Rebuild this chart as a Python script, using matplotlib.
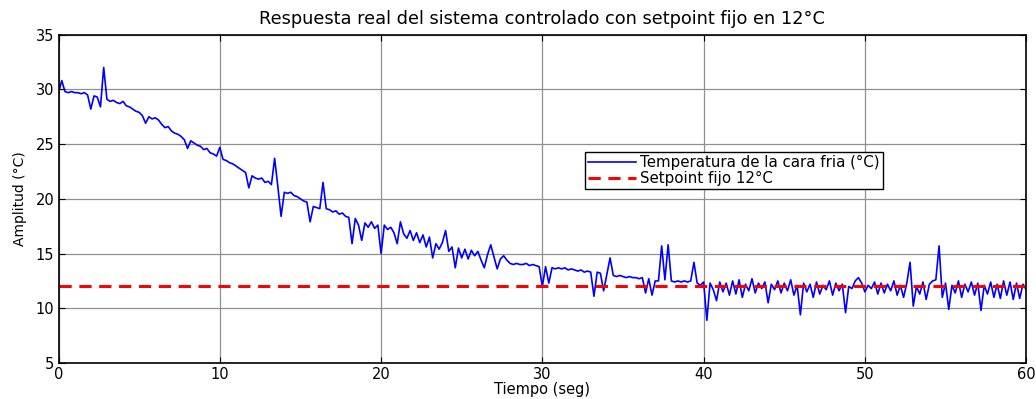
import numpy as np
import matplotlib.pyplot as plt

plt.rcParams['font.family'] = ['DejaVu Sans']

# Temperatura medida (°C), una muestra cada 0.2 s
dt = 0.2
temperatura = [
    29.7, 30.8, 29.8, 29.7, 29.8, 29.7, 29.7, 29.6, 29.7, 29.5,
    28.2, 29.4, 29.3, 28.4, 32.0, 29.1, 28.9, 29.0, 28.8, 28.7,
    28.9, 28.5, 28.4, 28.2, 28.0, 27.9, 27.6, 26.9, 27.5, 27.3,
    27.4, 27.2, 26.8, 26.5, 26.6, 26.2, 26.0, 25.9, 25.7, 25.4,
    24.6, 25.3, 25.1, 24.9, 24.8, 24.5, 24.6, 24.2, 24.1, 23.9,
    24.7, 23.6, 23.5, 23.3, 23.2, 23.0, 22.8, 22.6, 22.4, 21.0,
    22.1, 21.9, 21.8, 21.9, 21.5, 21.6, 21.3, 23.7, 21.1, 18.4,
    20.6, 20.5, 20.6, 20.3, 20.2, 20.0, 19.8, 19.7, 17.9, 19.3,
    19.2, 19.1, 21.5, 19.1, 19.0, 18.8, 18.9, 18.6, 18.7, 18.4,
    18.3, 15.9, 18.2, 17.6, 16.2, 17.8, 17.4, 17.9, 17.3, 17.6,
    15.0, 17.6, 17.2, 17.4, 16.9, 15.9, 17.9, 16.8, 16.4, 17.1,
    16.2, 16.9, 16.0, 16.7, 15.6, 16.5, 14.6, 15.9, 15.4, 16.0,
    17.1, 15.2, 15.6, 13.7, 15.5, 14.6, 15.4, 14.5, 15.3, 14.8,
    15.2, 14.4, 13.7, 14.9, 15.8, 14.7, 13.6, 14.5, 14.8, 14.4,
    14.1, 14.0, 14.1, 14.0, 14.0, 14.1, 13.9, 14.0, 13.9, 13.8,
    12.0, 13.8, 12.3, 13.7, 13.6, 13.7, 13.6, 13.7, 13.5, 13.6,
    13.5, 13.4, 13.5, 13.3, 13.4, 13.3, 11.1, 13.3, 13.2, 11.6,
    13.1, 14.6, 13.0, 12.9, 13.0, 12.9, 12.8, 12.9, 12.8, 12.8,
    12.7, 12.8, 11.4, 12.7, 11.2, 12.5, 12.5, 15.7, 12.6, 15.8,
    12.5, 12.4, 12.5, 12.4, 12.5, 12.4, 12.5, 14.2, 12.3, 12.1,
    12.4, 8.9, 12.3, 11.7, 10.7, 12.4, 11.5, 12.3, 11.2, 12.5,
    11.3, 12.6, 11.0, 12.2, 11.6, 12.7, 11.4, 12.3, 11.8, 12.4,
    10.5, 12.2, 11.7, 12.5, 11.4, 12.3, 11.6, 12.6, 11.2, 12.1,
    9.4, 12.3, 11.5, 12.2, 11.0, 12.4, 11.3, 12.1, 11.7, 12.5,
    11.2, 12.3, 11.6, 12.2, 9.6, 12.0, 11.8, 12.5, 12.8, 12.3,
    11.5, 12.1, 11.8, 12.4, 11.3, 12.3, 11.4, 12.2, 11.6, 12.5,
    11.2, 12.1, 11.0, 12.3, 14.2, 10.2, 12.0, 11.3, 12.4, 10.8,
    12.2, 12.5, 12.6, 15.7, 11.0, 12.3, 9.9, 12.1, 11.4, 12.5,
    11.0, 12.2, 11.5, 12.4, 11.2, 12.3, 9.8, 12.1, 11.3, 12.4,
    11.0, 12.2, 10.9, 12.5, 11.2, 12.4, 10.8, 12.3, 10.9, 12.2,
    11.7,
]
setpoint = 12.0

tiempo = np.arange(len(temperatura)) * dt

fig = plt.figure(figsize=(10.36, 3.99), dpi=100)
ax = fig.add_axes([0.0565, 0.0902, 0.934, 0.823])

ax.plot(tiempo, temperatura, color='#0000ff', linewidth=1.2,
        label='Temperatura de la cara fria (°C)')
ax.axhline(setpoint, color='#ff0000', linewidth=2.2, linestyle=(0, (4, 2.5)),
           label='Setpoint fijo 12°C')

ax.set_xlim(0, 60)
ax.set_ylim(5, 35)
ax.set_xticks(np.arange(0, 61, 10))
ax.set_yticks(np.arange(5, 36, 5))
ax.grid(True, color='#909090', linewidth=0.9)
ax.tick_params(direction='in', top=True, right=True, labelsize=10.5,
               length=4, pad=3)
for s in ax.spines.values():
    s.set_linewidth(1.2)

ax.set_title('Respuesta real del sistema controlado con setpoint fijo en 12°C',
             fontsize=12.8, pad=8)
ax.set_xlabel('Tiempo (seg)', fontsize=10.5, labelpad=0)
ax.set_ylabel('Amplitud (°C)', fontsize=10, labelpad=6)

leg = ax.legend(loc='upper left', bbox_to_anchor=(0.544, 0.643), fontsize=10.8,
                fancybox=False, framealpha=1, edgecolor='black',
                borderpad=0.2, labelspacing=0.1, handlelength=3.2,
                handletextpad=0.3, borderaxespad=0)
leg.get_frame().set_linewidth(1.0)

fig.savefig('out.png', dpi=100)
